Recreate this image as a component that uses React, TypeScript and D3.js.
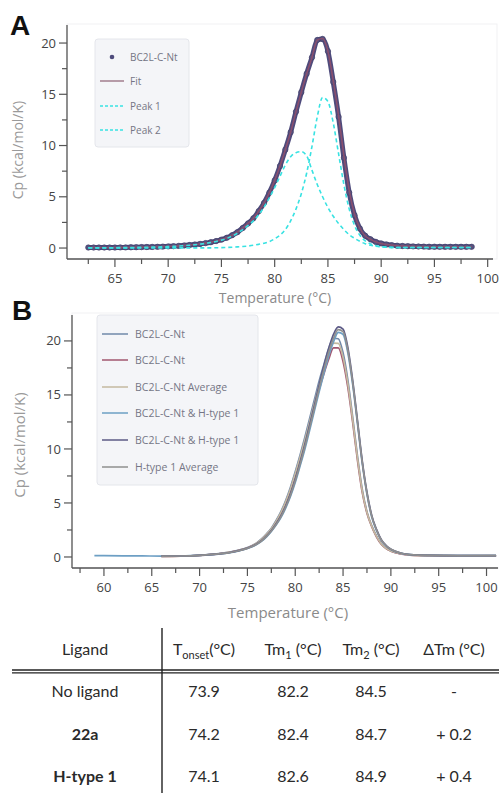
import React from 'react';
import * as d3 from 'd3';

// ---------- Panel A data ----------
const tempA = [62.5,63,63.5,64,64.5,65,65.5,66,66.5,67,67.5,68,68.5,69,69.5,70,70.5,71,71.5,72,72.5,73,73.5,74,74.5,75,75.5,76,76.5,77,77.5,78,78.5,79,79.5,80,80.5,81,81.5,82,82.5,83,83.5,84,84.5,85,85.5,86,86.5,87,87.5,88,88.5,89,89.5,90,90.5,91,91.5,92,92.5,93,93.5,94,94.5,95,95.5,96,96.5,97,97.5,98,98.5];
const dataA = [
  0.05,0.05,0.05,0.05,0.05,0.05,0.06,0.06,0.07,0.08,
  0.09,0.10,0.11,0.12,0.14,0.16,0.18,0.21,0.25,0.29,
  0.34,0.40,0.48,0.57,0.68,0.82,1.0,1.25,1.55,1.95,
  2.4,2.9,3.6,4.4,5.4,6.6,8.0,9.6,11.3,13.3,
  15.2,17.0,18.6,20.3,20.4,19.2,16.2,12.8,8.8,5.4,
  3.2,1.9,1.2,0.85,0.6,0.45,0.35,0.28,0.23,0.2,
  0.18,0.16,0.15,0.14,0.13,0.13,0.12,0.12,0.12,
  0.12,0.12,0.12,0.12];
const fitA = [
  0.05,0.05,0.05,0.05,0.05,0.05,0.06,0.06,0.07,0.08,
  0.09,0.10,0.11,0.12,0.14,0.16,0.18,0.21,0.25,0.29,
  0.34,0.40,0.48,0.57,0.68,0.82,1.0,1.25,1.55,1.95,
  2.4,2.9,3.6,4.4,5.4,6.6,8.0,9.6,11.3,13.3,
  15.2,17.0,18.6,20.3,20.45,19.2,16.3,12.9,9.0,5.6,
  3.3,1.95,1.2,0.85,0.6,0.45,0.35,0.28,0.23,0.2,
  0.18,0.16,0.15,0.14,0.13,0.13,0.12,0.12,0.12,
  0.12,0.12,0.12,0.12];
const peak1A = [
  0.03,0.03,0.03,0.03,0.03,0.03,0.04,0.04,0.05,0.06,
  0.07,0.08,0.09,0.10,0.12,0.14,0.16,0.19,0.23,0.27,
  0.32,0.38,0.45,0.54,0.64,0.77,0.94,1.17,1.44,1.8,
  2.2,2.65,3.25,4.0,4.9,5.9,7.0,8.1,8.9,9.3,
  9.4,9.0,7.6,6.2,5.0,3.95,3.1,2.4,1.8,1.3,
  0.95,0.65,0.42,0.27,0.17,0.11,0.08,0.06,0.05,0.05,
  0.05,0.05,0.05,0.05,0.05,0.05,0.05,0.05,0.05,
  0.05,0.05,0.05,0.05];
const peak2A = [
  0.02,0.02,0.02,0.02,0.02,0.02,0.02,0.02,0.02,0.02,
  0.02,0.02,0.02,0.02,0.02,0.02,0.02,0.02,0.02,0.02,
  0.02,0.02,0.02,0.02,0.03,0.04,0.06,0.08,0.11,0.15,
  0.2,0.27,0.36,0.47,0.62,0.9,1.25,1.8,2.65,3.8,
  5.3,7.3,9.9,12.8,14.7,14.3,12.2,9.2,6.2,3.8,
  2.2,1.25,0.7,0.4,0.22,0.13,0.08,0.05,0.05,0.05,
  0.05,0.05,0.05,0.05,0.05,0.05,0.05,0.05,0.05,
  0.05,0.05,0.05,0.05];

// ---------- Panel B data ----------
const tempB = [59,60,62,64,66,68,70,72,73,74,75,75.5,76,76.5,77,77.5,78,78.5,79,79.5,80,80.5,81,81.5,82,82.5,83,83.5,84,84.5,85,85.5,86,86.5,87,87.5,88,88.5,89,89.5,90,91,92,94,97,101];
const nlRun1: (number | null)[] = [
  null,null,null,null,0.06,0.09,0.16,0.31,0.43,0.61,
  0.87,1.07,1.33,1.69,2.15,2.67,3.38,4.2,5.23,6.46,
  7.9,9.43,11.07,12.8,14.55,16.3,17.83,19.3,20.25,20.2,
  18.9,16.4,13.0,9.4,6.3,4.2,2.9,1.95,1.22,0.82,
  0.56,0.31,0.19,0.14,0.12,0.13];
const nlRun2: (number | null)[] = [
  null,null,null,null,0.05,0.08,0.15,0.29,0.41,0.59,
  0.83,1.03,1.27,1.61,2.05,2.54,3.22,4.0,4.97,6.14,
  7.5,8.97,10.53,12.2,13.85,15.5,16.97,18.3,19.35,19.35,
  18.1,15.7,12.5,9.0,6.0,4.05,2.8,1.85,1.18,0.78,
  0.54,0.29,0.17,0.12,0.10,0.11];
const hRun1: (number | null)[] = [
  0.12,0.12,0.11,0.10,0.08,0.09,0.14,0.27,0.37,0.54,
  0.78,0.95,1.18,1.47,1.87,2.36,2.95,3.64,4.53,5.6,
  6.9,8.4,9.95,11.7,13.5,15.3,17.0,18.6,19.9,20.8,
  20.6,18.9,16.0,12.4,8.7,5.8,3.7,2.45,1.55,1.02,
  0.7,0.36,0.21,0.14,0.12,0.12];
const hRun2: (number | null)[] = [
  null,null,null,null,0.08,0.09,0.15,0.29,0.39,0.57,
  0.82,0.99,1.23,1.53,1.95,2.45,3.07,3.8,4.72,5.84,
  7.2,8.75,10.4,12.2,14.0,15.9,17.7,19.3,20.6,21.3,
  21.1,19.4,16.4,12.7,8.95,6.0,3.85,2.55,1.6,1.06,
  0.72,0.37,0.22,0.15,0.12,0.13];

const avg = (a: (number | null)[], b: (number | null)[]) =>
  a.map((v, i) => (v == null || b[i] == null ? null : d3.mean([v, b[i] as number]) as number));

const seriesB = [
  { name: 'BC2L-C-Nt', color: '#7189aa', values: nlRun1 },
  { name: 'BC2L-C-Nt', color: '#a2566f', values: nlRun2 },
  { name: 'BC2L-C-Nt Average', color: '#c4b9a0', values: avg(nlRun1, nlRun2) },
  { name: 'BC2L-C-Nt & H-type 1', color: '#6d9fc4', values: hRun1 },
  { name: 'BC2L-C-Nt & H-type 1', color: '#5c5a86', values: hRun2 },
  { name: 'H-type 1 Average', color: '#8f8f8f', values: avg(hRun1, hRun2) },
];

// ---------- Table data ----------
const ligands = ['No ligand', '22a', 'H-type 1'];
const ligandBold = [false, true, true];
const tOnset = ['73.9', '74.2', '74.1'];
const tm1 = ['82.2', '82.4', '82.6'];
const tm2 = ['84.5', '84.7', '84.9'];
const dTm = ['-', '+ 0.2', '+ 0.4'];

const yTicks = [0, 5, 10, 15, 20];
const yMinor = [2.5, 7.5, 12.5, 17.5];
const xTicksA = [65, 70, 75, 80, 85, 90, 95, 100];
const xMinorA = [62.5, 67.5, 72.5, 77.5, 82.5, 87.5, 92.5, 97.5];
const xTicksB = [60, 65, 70, 75, 80, 85, 90, 95, 100];
const xMinorB = [57.5, 62.5, 67.5, 72.5, 77.5, 82.5, 87.5, 92.5, 97.5];

const FONT = "'Open Sans', 'Noto Sans', sans-serif";
const TFONT = "Lato, 'Open Sans', sans-serif";
const AXIS = '#555';

type AxProps = {
  x: d3.ScaleLinear<number, number>;
  y: d3.ScaleLinear<number, number>;
  xTicks: number[]; xMinor: number[];
};

function Axes({ x, y, xTicks, xMinor }: AxProps) {
  const [x0, x1] = x.range();
  const [yb, yt] = y.range();
  return (
    <g fontFamily={FONT}>
      <line x1={x0} x2={x0} y1={yt} y2={yb} stroke={AXIS} strokeWidth={1.3} />
      <line x1={x0} x2={x1} y1={yb} y2={yb} stroke={AXIS} strokeWidth={1.3} />
      {yTicks.map(t => (
        <g key={'y' + t}>
          <line x1={x0 - 8} x2={x0} y1={y(t)} y2={y(t)} stroke={AXIS} strokeWidth={1.2} />
          <text x={x0 - 11} y={y(t)} dy="0.35em" textAnchor="end" fontSize={13} fill="#444">{t}</text>
        </g>
      ))}
      {yMinor.map(t => (
        <line key={'ym' + t} x1={x0 - 5} x2={x0} y1={y(t)} y2={y(t)} stroke={AXIS} strokeWidth={1.2} />
      ))}
      {xTicks.map(t => (
        <g key={'x' + t}>
          <line x1={x(t)} x2={x(t)} y1={yb} y2={yb + 8} stroke={AXIS} strokeWidth={1.2} />
          <text x={x(t)} y={yb + 24} textAnchor="middle" fontSize={13} fill="#444">{t}</text>
        </g>
      ))}
      {xMinor.map(t => (
        <line key={'xm' + t} x1={x(t)} x2={x(t)} y1={yb} y2={yb + 5} stroke={AXIS} strokeWidth={1.2} />
      ))}
    </g>
  );
}

export default function App() {
  const xA = d3.scaleLinear().domain([60.5, 100.5]).range([67, 493]);
  const yA = d3.scaleLinear().domain([-1.07, 21.76]).range([259, 25]);
  const xB = d3.scaleLinear().domain([56.66, 101.2]).range([72, 498]);
  const yB = d3.scaleLinear().domain([-1.02, 22.4]).range([568, 315]);

  const lineA = (vals: number[]) =>
    d3.line<number>().x((_, i) => xA(tempA[i])).y(d => yA(d)).curve(d3.curveMonotoneX)(vals) || '';
  const lineB = d3.line<number | null>()
    .defined(d => d != null)
    .x((_, i) => xB(tempB[i]))
    .y(d => yB(d as number))
    .curve(d3.curveMonotoneX);

  const cyan = '#38e2e2';
  const dotColor = '#4e4b7c';
  const fitColor = '#8a4f6e';

  const legendBY = [334, 360, 387, 413, 440, 467];

  const colX = [85, 204, 293, 371, 454];
  const rowY = [697, 740, 782];

  return (
    <svg width={499} height={793} style={{ position: 'absolute', left: 0, top: 0, background: '#fff' }}>
      {/* Panel A */}
      <text x={10} y={35} fontFamily="'Liberation Sans', Arial, sans-serif" fontWeight="bold" fontSize={28} fill="#111">A</text>
      <rect x={67} y={24} width={430} height={235} fill="none" stroke="#f1f1f3" />
      <path d={lineA(dataA)} fill="none" stroke={dotColor} strokeWidth={5} />
      {dataA.map((v, i) => (
        <circle key={i} cx={xA(tempA[i])} cy={yA(v)} r={2.7} fill="#55527f" stroke="#3f3c68" strokeWidth={0.6} />
      ))}
      <path d={lineA(fitA)} fill="none" stroke={fitColor} strokeWidth={1.6} />
      <path d={lineA(peak1A)} fill="none" stroke={cyan} strokeWidth={1.6} strokeDasharray="4,3" />
      <path d={lineA(peak2A)} fill="none" stroke={cyan} strokeWidth={1.6} strokeDasharray="4,3" />
      <Axes x={xA} y={yA} xTicks={xTicksA} xMinor={xMinorA} />
      <text transform={`translate(23,150) rotate(-90)`} textAnchor="middle" fontFamily={FONT} fontSize={14} fill="#9a9a9a">Cp (kcal/mol/K)</text>
      <text x={275} y={303} textAnchor="middle" fontFamily={FONT} fontSize={14} fill="#8a8a8a">Temperature (°C)</text>
      {/* Legend A */}
      <g fontFamily={FONT} fontSize={10} fill="#757585">
        <rect x={95} y={39} width={94} height={108} rx={3} fill="#f4f5f8" stroke="#e4e6eb" />
        <circle cx={112} cy={57} r={2.3} fill={dotColor} />
        <text x={130} y={57} dy="0.35em">BC2L-C-Nt</text>
        <line x1={100} x2={124} y1={81} y2={81} stroke="#a27d8e" strokeWidth={1.5} />
        <text x={130} y={81} dy="0.35em">Fit</text>
        <line x1={100} x2={124} y1={106} y2={106} stroke={cyan} strokeWidth={1.5} strokeDasharray="3,2" />
        <text x={130} y={106} dy="0.35em">Peak 1</text>
        <line x1={100} x2={124} y1={130} y2={130} stroke={cyan} strokeWidth={1.5} strokeDasharray="3,2" />
        <text x={130} y={130} dy="0.35em">Peak 2</text>
      </g>

      {/* Panel B */}
      <text x={12} y={320} fontFamily="'Liberation Sans', Arial, sans-serif" fontWeight="bold" fontSize={28} fill="#111">B</text>
      <rect x={72} y={313} width={428} height={255} fill="none" stroke="#f1f1f3" />
      {seriesB.map((s, i) => (
        <path key={i} d={lineB(s.values) || ''} fill="none" stroke={s.color} strokeWidth={1.7} />
      ))}
      <Axes x={xB} y={yB} xTicks={xTicksB} xMinor={xMinorB} />
      <text transform={`translate(25,445) rotate(-90)`} textAnchor="middle" fontFamily={FONT} fontSize={15} fill="#9a9a9a">Cp (kcal/mol/K)</text>
      <text x={288} y={618} textAnchor="middle" fontFamily={FONT} fontSize={15} fill="#8a8a8a">Temperature (°C)</text>
      <g fontFamily={FONT} fontSize={10.5} fill="#757585">
        <rect x={97} y={315} width={161} height={170} rx={3} fill="#f4f5f8" stroke="#e4e6eb" />
        {seriesB.map((s, i) => (
          <g key={i}>
            <line x1={102} x2={128} y1={legendBY[i]} y2={legendBY[i]} stroke={s.color} strokeWidth={1.5} />
            <text x={135} y={legendBY[i]} dy="0.35em">{s.name}</text>
          </g>
        ))}
      </g>

      {/* Table */}
      <g fontFamily={TFONT} fontSize={16} fill="#2a2a2a" textAnchor="middle">
        <line x1={12} x2={499} y1={670} y2={670} stroke="#222" strokeWidth={1.4} />
        <line x1={12} x2={499} y1={672.8} y2={672.8} stroke="#222" strokeWidth={1.2} />
        <line x1={162} x2={162} y1={628} y2={793} stroke="#222" strokeWidth={1.4} />
        <text x={colX[0]} y={655}>Ligand</text>
        <text x={colX[1]} y={655}>T<tspan fontSize={11} dy={4}>onset</tspan><tspan dy={-4}>(°C)</tspan></text>
        <text x={colX[2]} y={655}>Tm<tspan fontSize={11} dy={4}>1</tspan><tspan dy={-4}> (°C)</tspan></text>
        <text x={colX[3]} y={655}>Tm<tspan fontSize={11} dy={4}>2</tspan><tspan dy={-4}> (°C)</tspan></text>
        <text x={colX[4]} y={655}>ΔTm (°C)</text>
        {ligands.map((l, i) => (
          <g key={l}>
            <text x={colX[0]} y={rowY[i]} fontWeight={ligandBold[i] ? 'bold' : 'normal'}>{l}</text>
            <text x={colX[1]} y={rowY[i]}>{tOnset[i]}</text>
            <text x={colX[2]} y={rowY[i]}>{tm1[i]}</text>
            <text x={colX[3]} y={rowY[i]}>{tm2[i]}</text>
            <text x={colX[4]} y={rowY[i]}>{dTm[i]}</text>
          </g>
        ))}
      </g>
    </svg>
  );
}
